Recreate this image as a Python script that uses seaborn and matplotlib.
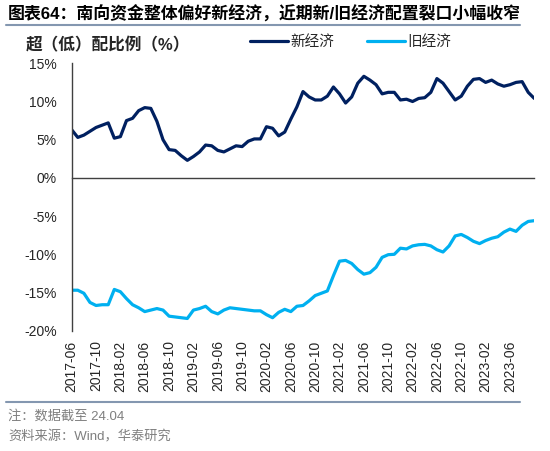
import pandas as pd
import numpy as np
import matplotlib
matplotlib.use('Agg')
import matplotlib.pyplot as plt
import seaborn as sns
from matplotlib.lines import Line2D

# monthly data, 2017-06 onwards (%)
new_econ = [6.3, 5.3, 5.6, 6.1, 6.6, 6.9, 7.2, 5.2, 5.4, 7.5,
            7.8, 8.8, 9.2, 9.1, 7.4, 5.0, 3.7, 3.6, 2.9, 2.3,
            2.8, 3.4, 4.3, 4.2, 3.6, 3.4, 3.8, 4.2, 4.1, 4.8,
            5.1, 5.1, 6.7, 6.5, 5.5, 6.0, 7.7, 9.3, 11.3, 10.6,
            10.2, 10.2, 10.7, 11.9, 11.0, 9.8, 10.6, 12.4, 13.3, 12.8,
            12.2, 11.0, 11.2, 11.2, 10.2, 10.3, 10.0, 10.4, 10.5, 11.2,
            13.0, 12.4, 11.3, 10.2, 10.7, 12.0, 12.9, 13.0, 12.5, 12.8,
            12.3, 12.0, 12.2, 12.5, 12.6, 11.2, 10.4]
old_econ = [-14.7, -14.7, -15.1, -16.3, -16.7, -16.6, -16.6, -14.6, -14.9, -15.8,
            -16.6, -17.0, -17.5, -17.3, -17.1, -17.3, -18.1, -18.2, -18.3, -18.4,
            -17.3, -17.1, -16.8, -17.5, -17.8, -17.3, -17.0, -17.1, -17.2, -17.3,
            -17.4, -17.4, -17.9, -18.3, -17.6, -17.2, -17.5, -16.8, -16.7, -16.1,
            -15.4, -15.1, -14.8, -12.8, -10.9, -10.8, -11.2, -12.0, -12.6, -12.4,
            -11.7, -10.4, -10.05, -10.0, -9.2, -9.3, -8.9, -8.75, -8.7, -8.9,
            -9.4, -9.7, -8.9, -7.6, -7.4, -7.8, -8.3, -8.6, -8.2, -7.9,
            -7.7, -7.1, -6.7, -7.0, -6.2, -5.7, -5.6]
months = pd.period_range('2017-06', periods=len(new_econ), freq='M').strftime('%Y-%m').tolist()
series_names = ['新经济', '旧经济']
colors = ['#002060', '#00B0F0']

df = pd.DataFrame({'idx': list(range(len(months))) * 2,
                   'value': new_econ + old_econ,
                   'series': [series_names[0]] * len(months) + [series_names[1]] * len(months)})

sns.set_style('white')
plt.rcParams['font.family'] = ['Liberation Sans', 'Noto Sans CJK SC']
plt.rcParams['axes.unicode_minus'] = False

fig = plt.figure(figsize=(5.5, 4.51), dpi=100)
ax = fig.add_axes([71.7 / 550, 1 - 330.7 / 451, (534.3 - 71.7) / 550, (330.7 - 63.3) / 451])

sns.lineplot(data=df, x='idx', y='value', hue='series', palette=colors,
             linewidth=2.3, ax=ax, legend=False)

axis_col = '#404040'
ax.set_xlim(0, len(months) - 1)
ax.set_ylim(-20, 15)
yt = np.arange(-20, 16, 5)
ax.set_yticks(yt, [f'{v}%' for v in yt])
ax.set_xlabel('')
ax.set_ylabel('')
for s in ['top', 'right']:
    ax.spines[s].set_visible(False)
ax.spines['bottom'].set_position(('data', 0))
ax.spines['bottom'].set_color(axis_col)
ax.spines['left'].set_color(axis_col)
ax.spines['bottom'].set_linewidth(1)
ax.spines['left'].set_linewidth(1)

ax.set_xticks(range(0, len(months), 4))
ax.tick_params(axis='x', labelbottom=False, length=3.6, width=1, color=axis_col, direction='out')
ax.tick_params(axis='y', length=3.6, width=1, color=axis_col, pad=7, labelsize=10, direction='out')

# date labels sit under the plot, the tick marks stay on the zero line
lab_pos = list(range(0, len(months) - 4, 4))
sec = ax.secondary_xaxis(0)
sec.set_xticks(lab_pos, [months[i] for i in lab_pos], rotation=90)
sec.tick_params(length=0, pad=7, labelsize=10)
sec.spines['bottom'].set_visible(False)

handles = [Line2D([], [], color=c, lw=2.3) for c in colors]
fig.legend(handles, series_names, loc='center left', bbox_to_anchor=(250 / 550, 1 - 42 / 451),
           ncol=2, frameon=False, fontsize=10.5, handlelength=2.6, handletextpad=0.2,
           columnspacing=2.2, borderpad=0, borderaxespad=0)

fig.text(8 / 550, 1 - 14 / 451, '图表64：南向资金整体偏好新经济，近期新/旧经济配置裂口小幅收窄',
         fontsize=12.2, fontweight='bold', va='center', ha='left', color='black')
fig.add_artist(Line2D([6 / 550, 520 / 550], [1 - 25 / 451, 1 - 25 / 451], color='#8497B0', lw=1.5))
fig.text(26 / 550, 1 - 45 / 451, '超（低）配比例（%）', fontsize=12, fontweight='bold', va='center')
fig.add_artist(Line2D([6 / 550, 520 / 550], [1 - 402 / 451, 1 - 402 / 451], color='#8497B0', lw=1.5))
fig.text(8 / 550, 1 - 416 / 451, '注：数据截至 24.04', fontsize=9.5, color='#7F7F7F', va='center')
fig.text(8 / 550, 1 - 437 / 451, '资料来源：Wind，华泰研究', fontsize=9.5, color='#7F7F7F', va='center')

fig.savefig('out.png', dpi=100)
